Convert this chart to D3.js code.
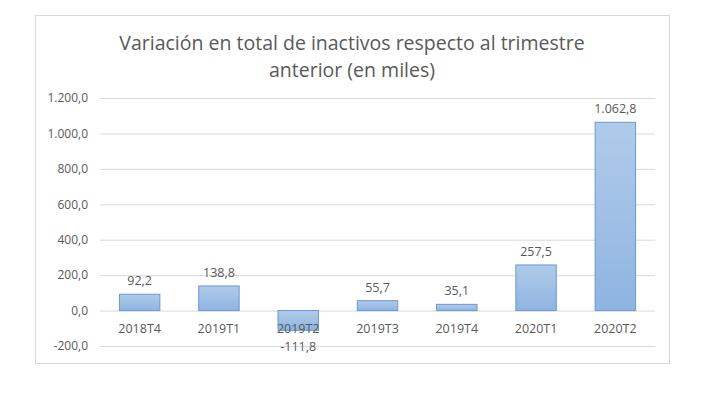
<!DOCTYPE html>
<html>
<head>
<meta charset="utf-8">
<script src="https://cdn.jsdelivr.net/npm/d3@7"></script>
<style>
  body { margin: 0; background: #fff; }
  svg text { font-family: "Open Sans", "Liberation Sans", sans-serif; fill: #595959; }
</style>
</head>
<body>
<svg id="chart" width="703" height="393"></svg>
<script>
const categories = ["2018T4", "2019T1", "2019T2", "2019T3", "2019T4", "2020T1", "2020T2"];
const values = [92.2, 138.8, -111.8, 55.7, 35.1, 257.5, 1062.8];
const yTicks = [-200, 0, 200, 400, 600, 800, 1000, 1200];
const titleLines = ["Variación en total de inactivos respecto al trimestre", "anterior (en miles)"];

const fmt = d => {
  const s = Math.abs(d).toFixed(1).split(".");
  const int = s[0].replace(/\B(?=(\d{3})+(?!\d))/g, ".");
  return (d < 0 ? "-" : "") + int + "," + s[1];
};

const margin = {left: 100, right: 48, top: 98, bottom: 47};
const svg = d3.select("#chart");
const W = 703, H = 393;
const width = W - margin.left - margin.right;
const height = H - margin.top - margin.bottom;

svg.append("rect")
  .attr("x", 35.5).attr("y", 15.5)
  .attr("width", 634).attr("height", 348)
  .attr("fill", "#fff").attr("stroke", "#d9d9d9");

const defs = svg.append("defs");
const grad = defs.append("linearGradient")
  .attr("id", "barGrad").attr("x1", 0).attr("y1", 0).attr("x2", 0).attr("y2", 1);
grad.append("stop").attr("offset", "0%").attr("stop-color", "#b0cbea");
grad.append("stop").attr("offset", "100%").attr("stop-color", "#8fb4e1");

svg.selectAll(".title")
  .data(titleLines)
  .enter().append("text")
  .attr("x", 352).attr("y", (d, i) => 50 + i * 27)
  .attr("text-anchor", "middle")
  .style("font-size", "19.5px")
  .text(d => d);

const g = svg.append("g").attr("transform", `translate(${margin.left},${margin.top})`);

const y = d3.scaleLinear().domain([-200, 1200]).range([height, 0]);
const x = d3.scaleBand().domain(categories).range([0, width])
  .paddingInner(0.49).paddingOuter(0.245);

g.append("g")
  .call(d3.axisLeft(y).tickValues(yTicks).tickSize(-width).tickFormat(fmt))
  .call(a => a.select(".domain").remove())
  .call(a => a.selectAll("line").attr("stroke", "#d9d9d9"))
  .call(a => a.selectAll("text").attr("x", -12).style("font-size", "12px"));

g.selectAll(".bar")
  .data(values)
  .enter().append("rect")
  .attr("x", (d, i) => x(categories[i]))
  .attr("y", d => y(Math.max(0, d)))
  .attr("width", x.bandwidth())
  .attr("height", d => Math.abs(y(d) - y(0)))
  .attr("fill", "url(#barGrad)")
  .attr("stroke", "#6a98d0")
  .attr("stroke-width", 1);

g.selectAll(".cat")
  .data(categories)
  .enter().append("text")
  .attr("x", d => x(d) + x.bandwidth() / 2)
  .attr("y", y(0) + 22)
  .attr("text-anchor", "middle")
  .style("font-size", "12.5px")
  .text(d => d);

g.selectAll(".lbl")
  .data(values)
  .enter().append("text")
  .attr("x", (d, i) => x(categories[i]) + x.bandwidth() / 2)
  .attr("y", d => d >= 0 ? y(d) - 9 : y(d) + 21)
  .attr("text-anchor", "middle")
  .style("font-size", "12.5px")
  .text(fmt);
</script>
</body>
</html>
